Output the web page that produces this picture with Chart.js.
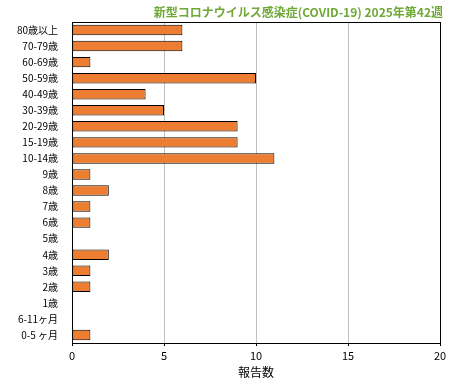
<!DOCTYPE html>
<html>
<head>
<meta charset="utf-8">
<script src="https://cdn.jsdelivr.net/npm/chart.js@4"></script>
<style>
  body { margin: 0; background: #fff; }
  #wrap { width: 460px; height: 380px; }
</style>
</head>
<body>
<div id="wrap"><canvas id="c" width="460" height="380"></canvas></div>
<script>
const titulo = '新型コロナウイルス感染症(COVID-19) 2025年第42週';
const grupos = ['80歳以上', '70-79歳', '60-69歳', '50-59歳', '40-49歳', '30-39歳', '20-29歳', '15-19歳', '10-14歳',
  '9歳', '8歳', '7歳', '6歳', '5歳', '4歳', '3歳', '2歳', '1歳', '6-11ヶ月', '0-5 ヶ月'];
const reportes = [6, 6, 1, 10, 4, 5, 9, 9, 11, 1, 2, 1, 1, 0, 2, 1, 1, 0, 0, 1];
const ejeX = [0, 5, 10, 15, 20];

const fuente = '"Noto Sans CJK JP", "DejaVu Sans", sans-serif';

const marco = {
  id: 'marco',
  afterDraw(chart) {
    const {ctx, chartArea: a} = chart;
    ctx.save();
    ctx.strokeStyle = '#000';
    ctx.lineWidth = 1;
    ctx.strokeRect(Math.round(a.left) + 0.5, Math.round(a.top) + 0.5,
      Math.round(a.right - a.left), Math.round(a.bottom - a.top));
    ctx.fillStyle = '#70A838';
    ctx.font = 'bold 12px ' + fuente;
    ctx.textAlign = 'right';
    ctx.textBaseline = 'middle';
    ctx.fillText(titulo, 443, 12);
    ctx.restore();
  }
};

new Chart(document.getElementById('c'), {
  type: 'bar',
  data: {
    labels: grupos,
    datasets: [{
      data: reportes,
      backgroundColor: '#ED7D31',
      borderColor: '#000',
      borderWidth: 1,
      borderSkipped: false,
      barPercentage: 0.65,
      categoryPercentage: 1
    }]
  },
  options: {
    indexAxis: 'y',
    responsive: false,
    animation: false,
    layout: { padding: { top: 22, right: 20, left: 0, bottom: 0 } },
    plugins: { legend: { display: false }, tooltip: { enabled: false } },
    scales: {
      x: {
        min: 0, max: 20,
        afterBuildTicks(s) { s.ticks = ejeX.map(v => ({value: v})); },
        afterFit(s) { s.height = 37; },
        grid: { color: '#c0c0c0', tickLength: 3, tickColor: '#000' },
        border: { color: '#000' },
        ticks: { color: '#000', font: { family: fuente, size: 11 }, padding: 3 },
        title: { display: true, text: '報告数', color: '#000', font: { family: fuente, size: 12 }, padding: 0 }
      },
      y: {
        afterFit(s) { s.width = 72; },
        grid: { display: false },
        border: { color: '#000' },
        ticks: { color: '#000', font: { family: fuente, size: 10 }, padding: 6, autoSkip: false }
      }
    }
  },
  plugins: [marco]
});
</script>
</body>
</html>
